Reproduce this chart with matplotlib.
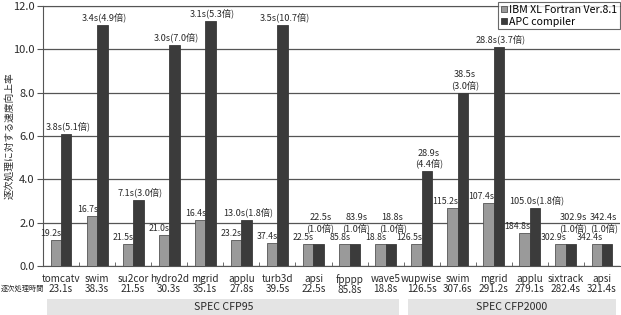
import matplotlib.pyplot as plt
from matplotlib.patches import Rectangle

plt.rcParams['font.family'] = ['Noto Sans CJK JP', 'DejaVu Sans']

names = ['tomcatv', 'swim', 'su2cor', 'hydro2d', 'mgrid', 'applu', 'turb3d', 'apsi',
         'fpppp', 'wave5', 'wupwise', 'swim', 'mgrid', 'applu', 'sixtrack', 'apsi']
seq_time = [23.1, 38.3, 21.5, 30.3, 35.1, 27.8, 39.5, 22.5, 85.8, 18.8,
            126.5, 307.6, 291.2, 279.1, 282.4, 321.4]
ibm_time = [19.2, 16.7, 21.5, 21.0, 16.4, 23.2, 37.4, 22.5, 85.8, 18.8,
            126.5, 115.2, 107.4, 184.8, 302.9, 342.4]
ibm_speedup = [1.2, 2.29, 1.0, 1.44, 2.14, 1.2, 1.06, 1.0, 1.0, 1.0,
               1.0, 2.67, 2.9, 1.52, 1.0, 1.0]
apc_time = [3.8, 3.4, 7.1, 3.0, 3.1, 13.0, 3.5, 22.5, 83.9, 18.8,
            28.9, 38.5, 28.8, 105.0, 302.9, 342.4]
apc_speedup = [6.08, 11.12, 3.03, 10.2, 11.3, 2.14, 11.12, 1.0, 1.0, 1.0,
               4.38, 8.0, 10.1, 2.66, 1.0, 1.0]
apc_ratio = [5.1, 4.9, 3.0, 7.0, 5.3, 1.8, 10.7, 1.0, 1.0, 1.0,
             4.4, 3.0, 3.7, 1.8, 1.0, 1.0]
two_line = [False] * 7 + [True] * 4 + [True, False, False, True, True]
groups = [('SPEC CFP95', 0, 9), ('SPEC CFP2000', 10, 15)]

GRAY = '#9a9a9a'
DARK = '#3b3b3b'
TXT = '#2a2a2a'
w = 0.29

fig = plt.figure(figsize=(6.21, 3.15), dpi=100)
ax = fig.add_axes([43 / 621, 1 - 266 / 315, 577 / 621, 260 / 315])

x = list(range(len(names)))
ax.bar([i - w / 2 for i in x], ibm_speedup, w, color=GRAY, edgecolor='#555555',
       linewidth=0.6, label='IBM XL Fortran Ver.8.1', zorder=3)
ax.bar([i + w / 2 for i in x], apc_speedup, w, color=DARK, edgecolor=DARK,
       linewidth=0.6, label='APC compiler', zorder=3)

xmax = len(names) - 0.5
for i in x:
    ax.annotate(f'{ibm_time[i]:.1f}s', (i + 0.02, ibm_speedup[i]), xytext=(0, 1.5),
                textcoords='offset points', ha='right', va='bottom',
                fontsize=6.3, color=TXT)
    if two_line[i]:
        txt = f'{apc_time[i]:.1f}s\n({apc_ratio[i]:.1f}倍)'
    else:
        txt = f'{apc_time[i]:.1f}s({apc_ratio[i]:.1f}倍)'
    ytop = max(apc_speedup[i], ibm_speedup[i] + 0.4)
    lx = min(i + w / 2 + 0.05, xmax - 0.45)
    ax.annotate(txt, (lx, ytop), xytext=(0, 2),
                textcoords='offset points', ha='center', va='bottom',
                fontsize=6.6, color=TXT, linespacing=1.1)

ax.set_xlim(-0.5, xmax)
ax.set_ylim(0, 12)
ax.set_yticks(range(0, 13, 2))
ax.set_yticklabels([f'{v:.1f}' for v in range(0, 13, 2)], fontsize=8, color=TXT)
ax.set_xticks(x)
ax.set_xticklabels([f'{n}\n{t:.1f}s' for n, t in zip(names, seq_time)],
                   fontsize=7.2, linespacing=1.0, color=TXT)
ax.set_xticks([i + 0.5 for i in x[:-1]], minor=True)
ax.tick_params(axis='x', which='major', length=0, pad=6)
ax.tick_params(axis='x', which='minor', direction='in', length=3, color='#555555')
ax.tick_params(axis='y', length=4, color='#555555', pad=2)
ax.yaxis.grid(True, color='#555555', linewidth=0.9, zorder=0)
ax.spines['right'].set_visible(False)
for s in ['top', 'left', 'bottom']:
    ax.spines[s].set_color('#555555')

ax.set_ylabel('逐次処理に対する速度向上率', fontsize=7, color=TXT)
ax.yaxis.set_label_coords(-0.05, 0.5)

leg = ax.legend(loc='upper right', bbox_to_anchor=(1.0, 1.015), fontsize=7.6,
                frameon=True, fancybox=False, edgecolor='#444444',
                handlelength=0.6, handleheight=0.6, handletextpad=0.2,
                borderpad=0.25, labelspacing=0.2, borderaxespad=0.0)
leg.get_frame().set_linewidth(0.8)

fig.text(1 / 621, 1 - 289 / 315, '逐次処理時間', fontsize=5.2, ha='left', va='center',
         color=TXT)

# benchmark suite bands under the axis
for label, a, b in groups:
    x0 = ax.transData.transform((a - 0.38, 0))[0] / fig.dpi / 6.21
    x1 = ax.transData.transform((b + 0.38, 0))[0] / fig.dpi / 6.21
    fig.patches.append(Rectangle((x0, 0), x1 - x0, 16 / 315, transform=fig.transFigure,
                                 facecolor='#e4e4e4', edgecolor='none'))
    fig.text((x0 + x1) / 2, 8 / 315, label, fontsize=7.6, ha='center', va='center',
             color=TXT)

fig.savefig('out.png', dpi=100)
